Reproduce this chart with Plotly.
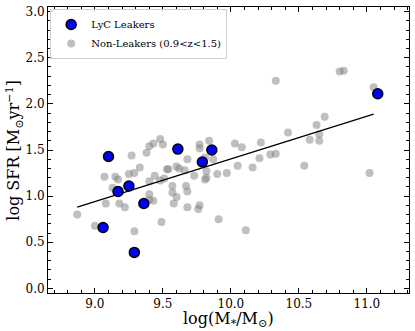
import plotly.graph_objects as go

# LyC leakers
leak_mass = [9.06, 9.29, 9.10, 9.17, 9.25, 9.36, 9.61, 9.86, 9.79, 11.08]
leak_sfr = [0.66, 0.39, 1.43, 1.05, 1.11, 0.92, 1.51, 1.50, 1.37, 2.11]

# Non-leakers (0.9<z<1.5)
non_mass = [8.87, 9.00, 9.07, 9.08, 9.15, 9.17, 9.13, 9.18, 9.22, 9.27,
            9.25, 9.29, 9.33, 9.29, 9.38, 9.40, 9.43, 9.48, 9.50, 9.40,
            9.40, 9.40, 9.43, 9.44, 9.49, 9.48, 9.51, 9.53, 9.54, 9.57,
            9.57, 9.58, 9.60, 9.60, 9.62, 9.66, 9.68, 9.67, 9.68, 9.68,
            9.73, 9.76, 9.77, 9.77, 9.77, 9.81, 9.82, 9.82, 9.81, 9.84,
            9.87, 9.90, 9.91, 9.97, 10.03, 10.05, 10.08, 10.22, 10.29, 10.33,
            10.21, 10.16, 10.33, 10.80, 10.83, 11.05, 10.69, 10.63, 10.65, 10.65,
            10.58, 10.42, 10.54, 11.02, 10.11]
non_sfr = [0.80, 0.68, 1.21, 0.92, 1.21, 1.18, 1.09, 0.92, 0.88, 1.44,
           1.24, 1.25, 1.31, 0.62, 1.47, 1.54, 1.57, 1.62, 1.56, 1.16,
           1.02, 0.96, 0.95, 1.22, 0.72, 1.17, 1.19, 1.29, 1.29, 1.11,
           1.04, 0.92, 0.99, 1.32, 1.30, 1.28, 1.40, 1.11, 1.05, 0.88,
           1.22, 0.86, 0.90, 1.56, 1.52, 1.42, 1.27, 1.20, 1.18, 1.60,
           1.40, 1.24, 0.75, 1.25, 1.57, 1.33, 1.53, 1.58, 1.45, 1.46,
           1.41, 1.31, 2.25, 2.35, 2.36, 2.18, 1.86, 1.77, 1.67, 1.60,
           1.61, 1.69, 1.33, 1.25, 0.63]

# Linear fit endpoints
fit_mass = [8.87, 11.05]
fit_sfr = [0.88, 1.89]

x_ticks = [9.0, 9.5, 10.0, 10.5, 11.0]
y_ticks = [0.0, 0.5, 1.0, 1.5, 2.0, 2.5, 3.0]

FONT = "DejaVu Serif"

fig = go.Figure()
fig.add_trace(go.Scatter(
    x=non_mass, y=non_sfr, mode="markers", name="Non-Leakers (0.9<z<1.5)",
    marker=dict(size=8, color="rgba(128,128,128,0.5)", line=dict(width=0)),
    legendrank=2))
fig.add_trace(go.Scatter(
    x=fit_mass, y=fit_sfr, mode="lines", showlegend=False,
    line=dict(color="black", width=1.3)))
fig.add_trace(go.Scatter(
    x=leak_mass, y=leak_sfr, mode="markers", name="LyC Leakers",
    marker=dict(size=10, color="#0000ff", line=dict(width=1.5, color="black")),
    legendrank=1))

axis_common = dict(
    showline=True, linecolor="black", linewidth=1, mirror="ticks",
    ticks="inside", ticklen=5, tickwidth=1, tickcolor="black",
    showgrid=False, zeroline=False, automargin=False,
    tickfont=dict(family=FONT, size=12, color="black"),
)

fig.update_xaxes(
    range=[8.655, 11.31], tickvals=x_ticks, tickformat=".1f",
    minor=dict(ticks="inside", ticklen=3, dtick=0.1, tickcolor="black", showgrid=False),
    **axis_common)
fig.update_yaxes(
    range=[-0.05, 3.05], tickvals=y_ticks, tickformat=".1f",
    minor=dict(ticks="inside", ticklen=3, dtick=0.1, tickcolor="black", showgrid=False),
    **axis_common)

fig.add_annotation(text="log(M<sub>*</sub>/M<sub>⊙</sub>)", xref="paper", yref="paper",
                   x=0.5, y=-0.094, xanchor="center", yanchor="middle", showarrow=False,
                   font=dict(family=FONT, size=16, color="black"))
fig.add_annotation(text="log SFR [M<sub>⊙</sub>yr<sup>−1</sup>]", xref="paper", yref="paper",
                   x=-0.095, y=0.5, xanchor="center", yanchor="middle", showarrow=False,
                   textangle=-90, font=dict(family=FONT, size=16, color="black"))

fig.update_layout(
    width=415, height=331,
    margin=dict(l=48, r=6, t=7, b=38, autoexpand=False),
    plot_bgcolor="white", paper_bgcolor="white",
    font=dict(family=FONT, color="black"),
    legend=dict(x=0.006, y=0.993, xanchor="left", yanchor="top",
                bgcolor="rgba(255,255,255,0.8)", bordercolor="#d0d0d0", borderwidth=1,
                font=dict(family=FONT, size=10, color="black"),
                itemwidth=30, tracegroupgap=0),
)

fig.write_html("out.html", config={"displayModeBar": False},
               post_script="document.body.style.margin='0';document.body.style.overflow='hidden';")
